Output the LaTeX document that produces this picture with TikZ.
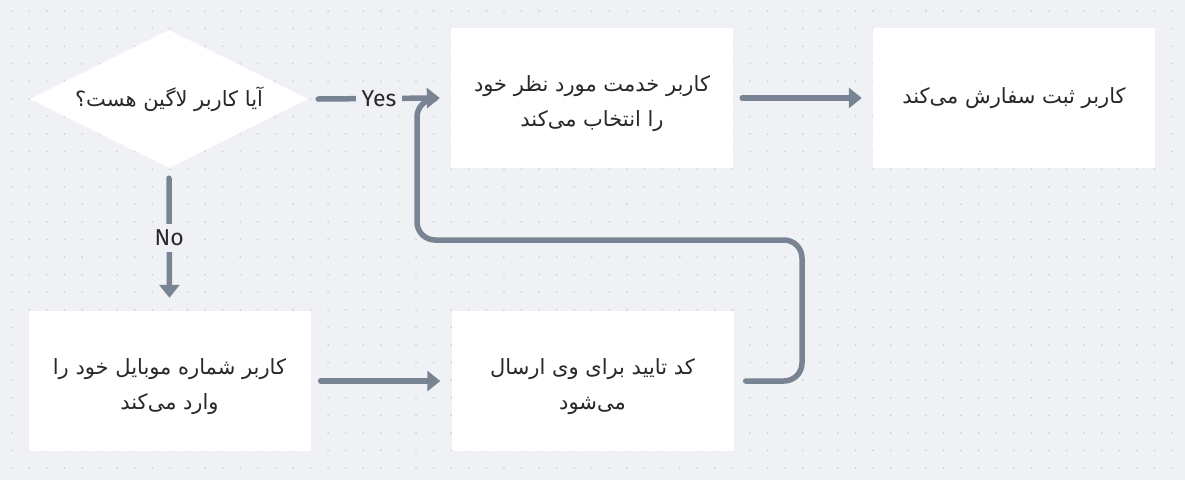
\documentclass[tikz,border=0pt]{standalone}
\usepackage{fontspec}
\usetikzlibrary{shapes.geometric,arrows.meta}
\TeXXeTstate=1
\newfontfamily\arabicfont[Script=Arabic]{DejaVu Sans}
\newfontfamily\labelfont{Fira Sans}
\newcommand{\topstrut}{\rule{0pt}{27pt}}
\definecolor{bgc}{RGB}{239,241,244}
\definecolor{dotc}{RGB}{200,206,213}
\definecolor{linec}{RGB}{120,132,148}
\definecolor{txtc}{RGB}{40,40,40}
\tikzset{
  stepbox/.style={rectangle, fill=white, minimum width=282pt, minimum height=140pt, inner sep=0pt,
    align=center, text=txtc, font=\arabicfont\fontsize{21}{35}\selectfont},
  decision/.style={diamond, aspect=2, fill=white, minimum width=278pt, minimum height=138pt, inner sep=0pt,
    align=center, text=txtc, font=\arabicfont\fontsize{21}{35}\selectfont},
  conn/.style={draw=linec, line width=5.5pt, line cap=round, line join=round,
    -{Triangle[length=13pt,width=20pt]}},
  plainconn/.style={draw=linec, line width=5.5pt, line cap=round, line join=round},
  elabel/.style={fill=bgc, text=txtc, inner sep=6pt, font=\labelfont\fontsize{23}{26}\selectfont}
}
\begin{document}
\begin{tikzpicture}[x=1pt,y=-1pt]
\fill[bgc] (0,0) rectangle (1185,480);
\useasboundingbox (0,0) rectangle (1185,480);
\foreach \i in {0,...,67}{
  \foreach \j in {0,...,26}{
    \fill[dotc] ({11.7+17.58*\i},{11+17.58*\j}) circle (0.9pt);
  }
}
\node[decision] (dia) at (169,99) {\beginR آیا کاربر لاگین هست؟\endR};
\node[stepbox] (svc) at (592,98) {\topstrut\beginR کاربر خدمت مورد نظر خود\endR\\\beginR را انتخاب می‌کند\endR};
\node[stepbox] (order) at (1014,98) {\beginR کاربر ثبت سفارش می‌کند\endR};
\node[stepbox] (mobile) at (169.5,381) {\topstrut\beginR کاربر شماره موبایل خود را\endR\\\beginR وارد می‌کند\endR};
\node[stepbox] (code) at (592.5,381) {\topstrut\beginR کد تایید برای وی ارسال\endR\\\beginR می‌شود\endR};

\coordinate (loopR) at (802,240);
\coordinate (join) at (417,99);

\draw[plainconn, rounded corners=18pt] ([xshift=12pt]code.east) -| (loopR) -| (join) [rounded corners=7pt] -- ([xshift=10pt]join);
\draw[conn] ([xshift=10pt]dia.east) -- node[elabel]{Yes} ([xshift=-11pt]svc.west);
\draw[conn] ([yshift=-10pt]dia.south) -- node[elabel]{No} ([yshift=13pt]mobile.north);
\draw[conn] ([xshift=10pt]mobile.east) -- ([xshift=-11pt]code.west);
\draw[conn] ([xshift=9pt]svc.east) -- ([xshift=-11pt]order.west);
\end{tikzpicture}
\end{document}
